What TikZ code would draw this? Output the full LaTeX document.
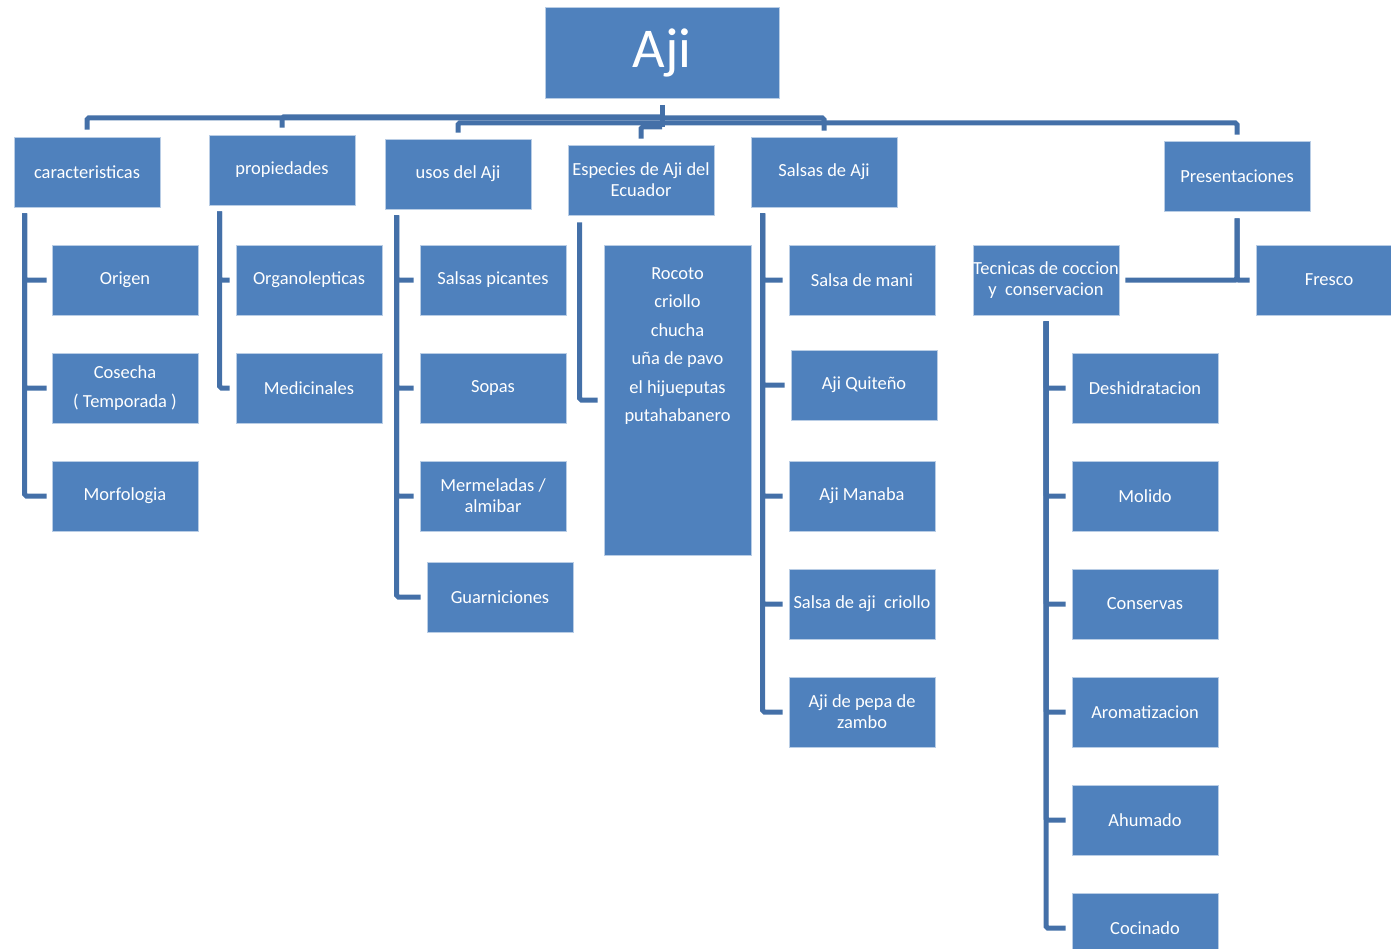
\documentclass[tikz,border=0pt]{standalone}
\usepackage{fontspec}
\setmainfont{Carlito}
\usetikzlibrary{calc}
\definecolor{boxblue}{HTML}{4F81BD}
\definecolor{linkblue}{HTML}{4470A8}
\definecolor{edgeblue}{HTML}{B9CDE5}

\begin{document}
\begin{tikzpicture}[x=0.02cm,y=-0.02cm,
    box/.style={rectangle,fill=boxblue,draw=edgeblue,line width=0.4pt,text=white,
        minimum width=2.92cm,minimum height=1.4cm,inner sep=1pt,align=center,
        font=\fontsize{10.5}{12}\selectfont},
    link/.style={draw=linkblue,line width=0.1cm,rounded corners=1pt}]
        \clip (0,0) rectangle (1391,948);

        % top
        \node[box,minimum width=4.68cm,minimum height=1.82cm,font=\fontsize{32}{36}\selectfont] (aji) at (662,53) {Aji};

        \node[box] (car) at (87,172) {caracteristicas};
        \node[box] (pro) at (282,170) {propiedades};
        \node[box] (uso) at (458,174) {usos del Aji};
        \node[box] (esp) at (641,180) {Especies de Aji del\\Ecuador};
        \node[box] (sal) at (824,172) {Salsas de Aji};
        \node[box] (pre) at (1237,176) {Presentaciones};

        % children
        \node[box] (ori) at (125,280) {Origen};
        \node[box] (cos) at (125,388) {Cosecha\\[4.4pt]( Temporada )};
        \node[box] (mor) at (125,496) {Morfologia};

        \node[box] (org) at (309,280) {Organolepticas};
        \node[box] (med) at (309,388) {Medicinales};

        \node[box] (pic) at (493,280) {Salsas picantes};
        \node[box] (sop) at (493,388) {Sopas};
        \node[box] (mer) at (493,496) {Mermeladas /\\almibar};
        \node[box] (gua) at (500,597) {Guarniciones};

        \node[box,minimum width=2.94cm,minimum height=6.2cm,inner sep=0pt] (roc) at (677.5,400)
            {\parbox[c][6.1cm][t]{2.8cm}{\centering\baselineskip=0.57cm
            \vspace*{0.4cm}Rocoto\\criollo\\chucha\\uña de pavo\\el hijueputas\\putahabanero}};

        \node[box] (man) at (862,280) {Salsa de mani};
        \node[box] (qui) at (864,385) {Aji Quiteño};
        \node[box] (mab) at (862,496) {Aji Manaba};
        \node[box] (cri) at (862,604) {Salsa de aji\ \ criollo};
        \node[box] (pep) at (862,712) {Aji de pepa de\\zambo};

        \node[box] (tec) at (1046,280) {\makebox[2.8cm]{Tecnicas de coccion}\\y\ \ conservacion};
        \node[box] (fre) at (1329,280) {Fresco};

        \node[box] (des) at (1145,388) {Deshidratacion};
        \node[box] (mol) at (1145,496) {Molido};
        \node[box] (con) at (1145,604) {Conservas};
        \node[box] (aro) at (1145,712) {Aromatizacion};
        \node[box] (ahu) at (1145,820) {Ahumado};
        \node[box] (coc) at (1145,928) {Cocinado};

        % top connectors
        \draw[link] ($(aji.south)+(0,6)$) -- ++(0,22);
        \draw[link] ($(car.north)+(0,-7)$) |- ($(aji.south)+(0,19)$);
        \draw[link] ($(pro.north)+(0,-7)$) |- ($(aji.south)+(0,18)$);
        \draw[link] ($(uso.north)+(0,-6)$) |- ($(aji.south)+(0,24)$);
        \draw[link] ($(esp.north)+(0,-6)$) |- ($(aji.south)+(0,28)$);
        \draw[link] ($(sal.north)+(0,-6)$) |- ($(aji.south)+(0,19)$);
        \draw[link] ($(pre.north)+(0,-6)$) |- ($(aji.south)+(0,24)$);

        % side connectors
        \draw[link] ($(car.south west)+(11,6)$) |- ($(ori.west)+(-5,0)$);
        \draw[link] ($(car.south west)+(11,6)$) |- ($(cos.west)+(-5,0)$);
        \draw[link] ($(car.south west)+(11,6)$) |- ($(mor.west)+(-5,0)$);

        \draw[link] ($(pro.south west)+(11,6)$) |- ($(org.west)+(-6,0)$);
        \draw[link] ($(pro.south west)+(11,6)$) |- ($(med.west)+(-6,0)$);

        \draw[link] ($(uso.south west)+(12,6)$) |- ($(pic.west)+(-6,0)$);
        \draw[link] ($(uso.south west)+(12,6)$) |- ($(sop.west)+(-6,0)$);
        \draw[link] ($(uso.south west)+(12,6)$) |- ($(mer.west)+(-6,0)$);
        \draw[link] ($(uso.south west)+(12,6)$) |- ($(gua.west)+(-6,0)$);

        \draw[link] ($(esp.south west)+(12,7)$) |- ($(roc.west)+(-6,0)$);

        \draw[link] ($(sal.south west)+(12,6)$) |- ($(man.west)+(-6,0)$);
        \draw[link] ($(sal.south west)+(12,6)$) |- ($(qui.west)+(-6,0)$);
        \draw[link] ($(sal.south west)+(12,6)$) |- ($(mab.west)+(-6,0)$);
        \draw[link] ($(sal.south west)+(12,6)$) |- ($(cri.west)+(-6,0)$);
        \draw[link] ($(sal.south west)+(12,6)$) |- ($(pep.west)+(-6,0)$);

        \draw[link] ($(pre.south)+(0,7)$) |- ($(fre.west)+(-6,0)$);
        \draw[link] ($(pre.south)+(0,7)$) |- ($(tec.east)+(6,0)$);

        \draw[link] ($(tec.south)+(0,6)$) |- ($(des.west)+(-6,0)$);
        \draw[link] ($(tec.south)+(0,6)$) |- ($(mol.west)+(-6,0)$);
        \draw[link] ($(tec.south)+(0,6)$) |- ($(con.west)+(-6,0)$);
        \draw[link] ($(tec.south)+(0,6)$) |- ($(aro.west)+(-6,0)$);
        \draw[link] ($(tec.south)+(0,6)$) |- ($(ahu.west)+(-6,0)$);
        \draw[link] ($(tec.south)+(0,6)$) |- ($(coc.west)+(-6,0)$);
    \end{tikzpicture}
\end{document}
